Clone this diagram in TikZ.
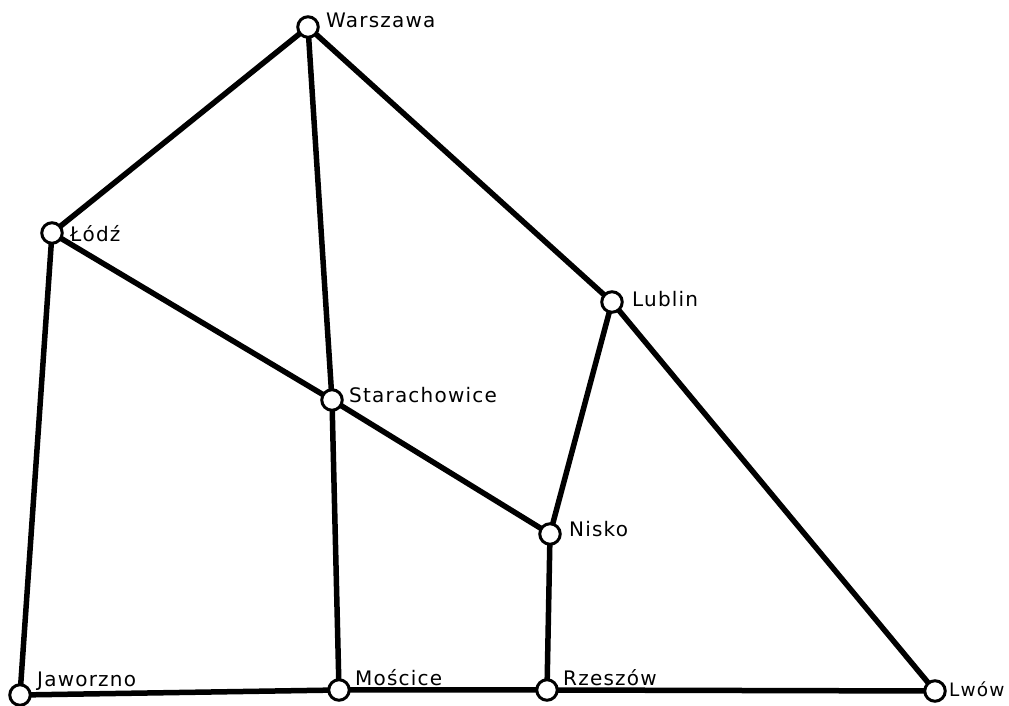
\documentclass[tikz,border=0pt]{standalone}
\usepackage{fontspec}
\setmainfont{DejaVu Sans}[LetterSpace=6]
\usepackage{tikz}
\usetikzlibrary{positioning}

\begin{document}
\begin{tikzpicture}[x=1pt,y=1pt,
  station/.style={circle,draw,line width=3pt,fill=white,minimum size=20.5pt,inner sep=0pt},
  rail/.style={line width=5.5pt},
  lbl/.style={anchor=base west,inner sep=0pt,font=\fontsize{20}{22}\selectfont}]
  \useasboundingbox (0,0) rectangle (1009,706);
  % stations
  \coordinate (waw) at (308,679);
  \coordinate (lod) at (52,473);
  \coordinate (lub) at (612,404);
  \coordinate (sta) at (332,306);
  \coordinate (nis) at (550,172);
  \coordinate (jaw) at (20,11);
  \coordinate (mos) at (339,16);
  \coordinate (rze) at (547,16);
  \coordinate (lwo) at (935,15);
  % lines
  \draw[rail] (waw) -- (lod) -- (jaw) -- (mos) -- (rze) -- (lwo) -- (lub) -- (waw);
  \draw[rail] (waw) -- (sta) -- (mos);
  \draw[rail] (lod) -- (sta) -- (nis) -- (rze);
  \draw[rail] (lub) -- (nis);
  \foreach \s in {waw,lod,lub,sta,nis,jaw,mos,rze,lwo}
    \node[station] (\s-c) at (\s) {};
  % names
  \node[lbl] (waw-l) at (326,678) {Warszawa};
  \node[lbl] (lod-l) at (70,464) {Łódź};
  \node[lbl] (lub-l) at (632,399) {Lublin};
  \node[lbl] (sta-l) at (349,303) {Starachowice};
  \node[lbl] (nis-l) at (569,169) {Nisko};
  \node[lbl] (jaw-l) at (37,19) {Jaworzno};
  \node[lbl] (mos-l) at (355,20) {Mościce};
  \node[lbl] (rze-l) at (563,20) {Rzeszów};
  \node[lbl,font=\fontsize{18.5}{20}\selectfont] (lwo-l) at (949,9) {Lwów};
\end{tikzpicture}
\end{document}
